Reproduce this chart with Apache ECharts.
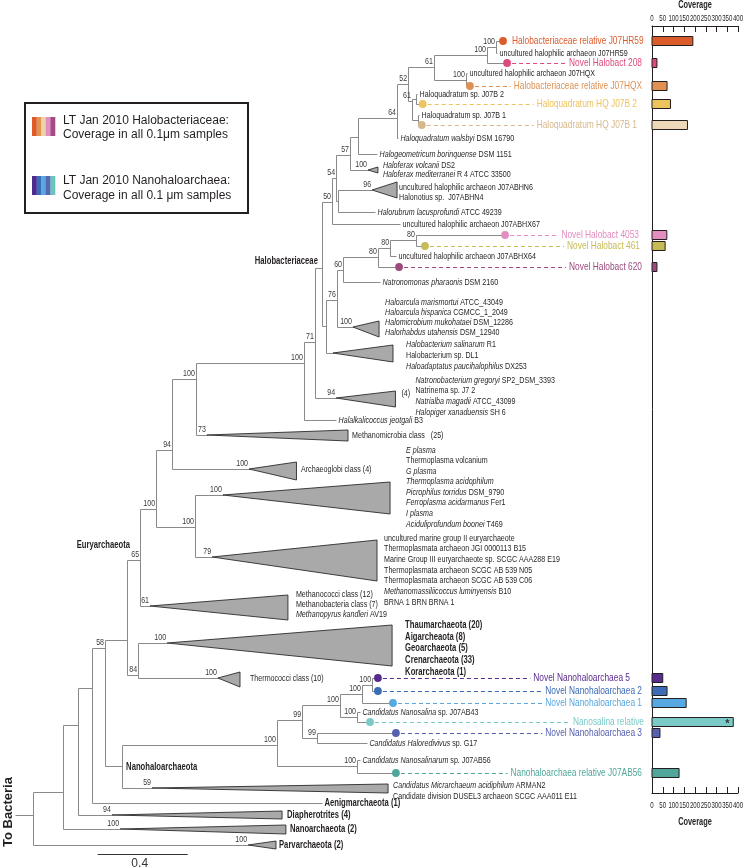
<!DOCTYPE html>
<html><head><meta charset="utf-8">
<script src="https://cdn.jsdelivr.net/npm/echarts@6/dist/echarts.min.js"></script>
<style>html,body{margin:0;padding:0;background:#fff}#chart{width:745px;height:868px}</style>
</head><body><div id="chart"></div>
<script>
// ---------------- DATA ----------------
// internal nodes: [id, parent, depth (subst./site from root), row, bootstrap support]
const internalNodes = [
  ['root', null, 0.000, 815, ''],
  ['n62', 'root', 0.132, 792, ''],
  ['n78', 'n62', 0.200, 725, ''],
  ['n92', 'n78', 0.262, 688, ''],
  ['n58', 'n92', 0.320, 648, '58'],
  ['eury', 'n58', 0.418, 640, ''],
  ['e65', 'eury', 0.476, 560, '65'],
  ['e100', 'e65', 0.547, 509, '100'],
  ['h94', 'e100', 0.618, 450, '94'],
  ['h100b', 'h94', 0.724, 379, '100'],
  ['h100a', 'h100b', 1.204, 363, '100'],
  ['h71', 'h100a', 1.253, 342, '71'],
  ['hal', 'h71', 1.284, 268, ''],
  ['h50', 'hal', 1.329, 202, '50'],
  ['h54', 'h50', 1.347, 178, '54'],
  ['h57', 'h54', 1.409, 155, '57'],
  ['n358', 'h57', 1.444, 137, ''],
  ['h64', 'n358', 1.618, 118, '64'],
  ['h52', 'h64', 1.667, 84, '52'],
  ['a3', 'h52', 1.782, 67, '61'],
  ['a2', 'a3', 2.018, 55, '100'],
  ['a1', 'a2', 2.058, 47, '100'],
  ['a4', 'a3', 1.924, 80, '100'],
  ['hq', 'h52', 1.684, 101, '61'],
  ['hq2', 'hq', 1.702, 99, ''],
  ['hq1', 'hq', 1.711, 120, ''],
  ['n338', 'h54', 1.356, 201, ''],
  ['n326', 'hal', 1.302, 326, ''],
  ['h76', 'n326', 1.351, 300, '76'],
  ['h60', 'h76', 1.378, 270, '60'],
  ['h80a', 'h60', 1.533, 257, '80'],
  ['h80b', 'h80a', 1.587, 248, '80'],
  ['h80c', 'h80b', 1.702, 240, '80'],
  ['t100', 'e100', 0.720, 527, '100'],
  ['t84', 'eury', 0.467, 675, '84'],
  ['nh', 'n58', 0.396, 766, ''],
  ['nA', 'nh', 1.084, 745, '100'],
  ['nB', 'nA', 1.196, 720, '99'],
  ['nC', 'nB', 1.364, 705, '100'],
  ['nE', 'nC', 1.462, 694, '100'],
  ['nG', 'nE', 1.507, 684.5, '100'],
  ['nF', 'nC', 1.440, 717, '100'],
  ['nD', 'nB', 1.262, 738, '99'],
  ['nF2', 'nA', 1.440, 766, '100']
];

// reference taxa: [parent, depth, row, name]
const taxa = [
  ['a1', 2.062, 53, 'uncultured halophilic archaeon J07HR59'],
  ['a4', 1.929, 73, 'uncultured halophilic archaeon J07HQX'],
  ['hq2', 1.707, 94, 'Haloquadratum sp. J07B 2'],
  ['hq1', 1.716, 115, 'Haloquadratum sp. J07B 1'],
  ['h64', 1.622, 138, '{i|Haloquadratum walsbyi} DSM 16790'],
  ['n358', 1.529, 154, '{i|Halogeometricum borinquense} DSM 1151'],
  ['n338', 1.520, 212, '{i|Halorubrum lacusprofundi} ATCC 49239'],
  ['h50', 1.631, 224, 'uncultured halophilic archaeon J07ABHX67'],
  ['h80b', 1.613, 256, 'uncultured halophilic archaeon J07ABHX64'],
  ['h60', 1.542, 282, '{i|Natronomonas pharaonis} DSM 2160'],
  ['h100a', 1.347, 420, '{i|Halalkalicoccus jeotgali} B3'],
  ['nF', 1.453, 712, '{i|Candidatus Nanosalina} sp. J07AB43'],
  ['nD', 1.484, 743, '{i|Candidatus Haloredivivus} sp. G17'],
  ['nF2', 1.453, 760, '{i|Candidatus Nanosalinarum} sp. J07AB56'],
  ['n92', 1.284, 803, '{b|Aenigmarchaeota (1)}']
];

// collapsed clades: [parent, apexDepth, edgeDepth, rowTop, rowApex, rowBottom, support]
const clades = [
  ['h57', 1.489, 1.533, 167, 170, 173, '100'],
  ['n338', 1.507, 1.618, 182, 190, 198, '96'],
  ['h76', 1.422, 1.538, 321, 327, 337, '100'],
  ['n326', 1.333, 1.600, 345, 353, 362, ''],
  ['h71', 1.347, 1.611, 391, 398, 407, '94'],
  ['h100b', 0.773, 1.400, 430, 435, 441, '73'],
  ['h94', 0.960, 1.171, 462, 469, 480, '100'],
  ['t100', 0.844, 1.587, 482, 495, 514, '100'],
  ['t100', 0.796, 1.529, 540, 557, 581, '79'],
  ['e65', 0.520, 1.133, 595, 606, 620, '61'],
  ['t84', 0.596, 1.596, 625, 643, 666, '100'],
  ['t84', 0.822, 0.920, 672, 678, 687, '100'],
  ['nh', 0.529, 1.578, 784, 788, 793, '59'],
  ['n78', 0.351, 1.107, 811, 815, 819, '94'],
  ['n62', 0.387, 1.124, 825, 829, 834, '100'],
  ['root', 0.956, 1.080, 841, 845, 849, '100']
];

// clade member names: [cladeIndex, firstRow, rowStep, members]
const cladeMembers = [
  [0, 165, 9, ['{i|Haloferax volcanii} DS2', '{i|Haloferax mediterranei} R 4 ATCC 33500']],
  [1, 187, 10, ['uncultured halophilic archaeon J07ABHN6', 'Halonotius sp.  J07ABHN4']],
  [2, 302, 10, ['{i|Haloarcula marismortui} ATCC_43049', '{i|Haloarcula hispanica} CGMCC_1_2049', '{i|Halomicrobium mukohataei} DSM_12286', '{i|Halorhabdus utahensis} DSM_12940']],
  [3, 344, 11, ['{i|Halobacterium salinarum} R1', 'Halobacterium sp. DL1', '{i|Haloadaptatus paucihalophilus} DX253']],
  [4, 380, 10.7, ['{i|Natronobacterium gregoryi} SP2_DSM_3393', 'Natrinema sp. J7 2', '{i|Natrialba magadii} ATCC_43099', '{i|Halopiger xanaduensis} SH 6']],
  [5, 435, 0, ['Methanomicrobia class   (25)']],
  [6, 469, 0, ['Archaeoglobi class (4)']],
  [7, 450, 10.57, ['{i|E plasma}', 'Thermoplasma volcanium', '{i|G plasma}', '{i|Thermoplasma acidophilum}', '{i|Picrophilus torridus} DSM_9790', '{i|Ferroplasma acidarmanus} Fer1', '{i|I plasma}', '{i|Aciduliprofundum boonei} T469']],
  [8, 538, 10.67, ['uncultured marine group II euryarchaeote', 'Thermoplasmata archaeon JGI 0000113 B15', 'Marine Group III euryarchaeote sp. SCGC AAA288 E19', 'Thermoplasmata archaeon SCGC AB 539 N05', 'Thermoplasmata archaeon SCGC AB 539 C06', '{i|Methanomassiliicoccus luminyensis} B10', 'BRNA 1 BRN BRNA 1']],
  [9, 594, 10, ['Methanococci class (12)', 'Methanobacteria class (7)', '{i|Methanopyrus kandleri} AV19']],
  [10, 625, 11.75, ['{b|Thaumarchaeota (20)}', '{b|Aigarcheaota (8)}', '{b|Geoarchaeota (5)}', '{b|Crenarchaeota (33)}', '{b|Korarchaeota (1)}']],
  [11, 678, 0, ['Thermococci class (10)']],
  [12, 785, 11, ['{i|Candidatus Micrarchaeum acidiphilum} ARMAN2', 'Candidate division DUSEL3 archaeon SCGC AAA011 E11']],
  [13, 815, 0, ['{b|Diapherotrites (4)}']],
  [14, 829, 0, ['{b|Nanoarchaeota (2)}']],
  [15, 845, 0, ['{b|Parvarchaeota (2)}']]
];
const cladeNotes = [[4, 393, '(4)']];

// named groups: [name, depth node, row node]
const groupNames = [
  ['Halobacteriaceae', 'hal', 'hal'],
  ['Euryarchaeota', 'eury', 'e65'],
  ['Nanohaloarchaeota', 'nh', 'nh']
];

// LT Jan 2010 genomes: [name, parent, depth, row, colour, coverage]
const genomes = [
  ['Halobacteriaceae relative J07HR59', 'a1', 2.089, 41, '#DC5B2B', 190],
  ['Novel Halobact 208', 'a2', 2.107, 63, '#DE4A7A', 23],
  ['Halobacteriaceae relative J07HQX', 'a4', 1.942, 86, '#DE9153', 70],
  ['Haloquadratum HQ J07B 2', 'hq2', 1.732, 104, '#EDC35C', 86],
  ['Haloquadratum HQ J07B 1', 'hq1', 1.728, 125, '#D6B88C', 165],
  ['Novel Halobact 4053', 'h80c', 2.098, 235, '#E38DC0', 69],
  ['Novel Halobact 461', 'h80c', 1.742, 246, '#C7BB55', 61],
  ['Novel Halobact 620', 'h80a', 1.627, 267, '#9C4A7D', 23],
  ['Novel Nanohaloarchaea 5', 'nG', 1.533, 678, '#5A2B8E', 50],
  ['Novel Nanohaloarchaea 2', 'nG', 1.533, 691, '#3B6CB4', 70],
  ['Novel Nanohaloarchaea 1', 'nE', 1.600, 703, '#57A7E0', 159],
  ['Nanosalina relative', 'nF', 1.498, 722, '#7ACBC8', 378],
  ['Novel Nanohaloarchaea 3', 'nD', 1.613, 733, '#5660B0', 37],
  ['Nanohaloarchaea relative J07AB56', 'nF2', 1.613, 773, '#50A69A', 126]
];
const starred = ['Nanosalina relative'];
const coverageTicks = [0, 400, 50];     // min, max, step
const scaleBarLength = 0.4;
const rootStemDepth = -0.08;

const legendHaloColors = ['#DC5B2B', '#E09453', '#EDD3A8', '#E38DC0', '#A24C86'];
const legendNanoColors = ['#4E2C8E', '#3B6CB4', '#57A7E0', '#5967B0', '#6CC3BF'];

// ---------------- LAYOUT / STYLE ----------------
const W = 745, H = 868;
const TREE_X0 = 33, PX_PER_UNIT = 225;
const BAR_LEFT = 652, BAR_WIDTH = 86, BAR_TOP = 26, BAR_BOTTOM = 793;
const FONT = "'Liberation Sans',Arial,sans-serif";
const CONDENSE = 0.76;
const INK = '#231f20', BRANCH = '#8a8a8a';
const FS = 9.4, COLOR_FS = 11, BOLD_FS = 10.1, SUP_FS = 9.3;
const labelGapOverride = {'Haloquadratum HQ J07B 2': 15, 'Haloquadratum HQ J07B 1': 15, 'Novel Halobact 4053': 13,
  'Novel Halobact 461': 12, 'Novel Nanohaloarchaea 5': 22, 'Nanosalina relative': 8};
const barFillOverride = {'Haloquadratum HQ J07B 1': '#EDD9B8'};
const memberGap = [5, 2, 6, 13, 20, 4, 4.5, 16, 7, 8, 13, 10, 5, 5, 4, 3];

// ---------------- BUILD TREE ----------------
const node = {};
internalNodes.forEach(n => node[n[0]] = {depth: n[2], row: n[3], kids: []});
internalNodes.forEach(n => { if (n[1]) node[n[1]].kids.push(n[3]); });
taxa.forEach(t => node[t[0]].kids.push(t[2]));
clades.forEach(c => node[c[0]].kids.push(c[4]));
genomes.forEach(g => node[g[1]].kids.push(g[3]));

const segments = [];
internalNodes.forEach(n => {
  const k = node[n[0]].kids.concat([n[3]]);
  segments.push([n[2], Math.min(...k), n[2], Math.max(...k)]);
  if (n[1]) segments.push([node[n[1]].depth, n[3], n[2], n[3]]);
});
taxa.forEach(t => segments.push([node[t[0]].depth, t[2], t[1], t[2]]));
clades.forEach(c => segments.push([node[c[0]].depth, c[4], c[1], c[4]]));
genomes.forEach(g => segments.push([node[g[1]].depth, g[3], g[2], g[3]]));
segments.push([rootStemDepth, node.root.row, 0, node.root.row]);

const supports = [];
internalNodes.forEach(n => { if (n[4]) supports.push([n[2], n[3], n[4]]); });
clades.forEach(c => { if (c[6]) supports.push([c[1], c[4], c[6]]); });

const memberLines = [];
cladeMembers.forEach(m => m[3].forEach((txt, i) => memberLines.push([clades[m[0]][2], m[1] + i * m[2], txt, memberGap[m[0]]])));
cladeNotes.forEach(n => memberLines.push([clades[n[0]][2], n[1], n[2], 6]));

const tickValues = [];
for (let v = coverageTicks[0]; v <= coverageTicks[1]; v += coverageTicks[2]) tickValues.push(v);

// ---------------- HELPERS ----------------
const mctx = document.createElement('canvas').getContext('2d');
function measure(text, size) { mctx.font = size + 'px ' + FONT; return mctx.measureText(text).width * CONDENSE; }
function rich(size, fill) {
  return {
    i: {fontSize: size, fontFamily: FONT, fill: fill, fontStyle: 'italic', fontWeight: 'normal'},
    b: {fontSize: size, fontFamily: FONT, fill: fill, fontStyle: 'normal', fontWeight: 'bold'}
  };
}
function textEl(x, y, text, o) {
  o = o || {};
  const size = o.size || FS, fill = o.fill || INK;
  return {type: 'text', x: x, y: y, scaleX: o.sx || CONDENSE, style: {
    text: text, fill: fill, fontSize: size, fontFamily: FONT,
    fontWeight: o.weight || 'normal', fontStyle: 'normal',
    align: o.align || 'left', verticalAlign: o.va || 'middle', rich: rich(size, fill)
  }};
}
const px = v => Math.round(v) + 0.5;
const idx = arr => arr.map((a, i) => [i]);

const treeAxes = {xAxisIndex: 0, yAxisIndex: 0, coordinateSystem: 'cartesian2d', silent: true, clip: false};
const barAxes = {xAxisIndex: 1, yAxisIndex: 1, coordinateSystem: 'cartesian2d', silent: true, clip: false};

const series = [
  Object.assign({type: 'custom', data: segments, encode: {x: [0, 2], y: [1, 3]},
    renderItem(p, api) {
      const a = api.coord([api.value(0), api.value(1)]), b = api.coord([api.value(2), api.value(3)]);
      return {type: 'line', shape: {x1: px(a[0]), y1: px(a[1]), x2: px(b[0]), y2: px(b[1])},
        style: {stroke: BRANCH, lineWidth: 1}};
    }}, treeAxes),
  Object.assign({type: 'custom', data: clades.map(c => [c[1], c[4]]), z: 3,
    renderItem(p, api) {
      const c = clades[p.dataIndex];
      return {type: 'polygon', shape: {points: [api.coord([c[1], c[4]]), api.coord([c[2], c[3]]), api.coord([c[2], c[5]])]},
        style: {fill: '#a9a9a9', stroke: '#2b2b2b', lineWidth: 0.9}};
    }}, treeAxes),
  Object.assign({type: 'custom', data: supports.map(s => [s[0], s[1]]), z: 4,
    renderItem(p, api) {
      const s = supports[p.dataIndex], c = api.coord([s[0], s[1]]);
      return textEl(c[0] - 1, c[1] - 1, s[2], {align: 'right', va: 'bottom', fill: '#3a3a3a', size: SUP_FS});
    }}, treeAxes),
  Object.assign({type: 'custom', data: taxa.map(t => [t[1], t[2]]), z: 4,
    renderItem(p, api) {
      const t = taxa[p.dataIndex], c = api.coord([t[1], t[2]]);
      return textEl(c[0] + 2.5, c[1], t[3], {size: t[3].indexOf('{b|') === 0 ? BOLD_FS : FS});
    }}, treeAxes),
  Object.assign({type: 'custom', data: memberLines.map(m => [m[0], m[1]]), z: 4,
    renderItem(p, api) {
      const m = memberLines[p.dataIndex], c = api.coord([m[0], m[1]]);
      return textEl(c[0] + m[3], c[1], m[2], {size: m[2].indexOf('{b|') === 0 ? BOLD_FS : FS});
    }}, treeAxes),
  Object.assign({type: 'custom', data: idx(groupNames), z: 4,
    renderItem(p, api) {
      const g = groupNames[p.dataIndex];
      const c = api.coord([node[g[1]].depth, node[g[2]].row]);
      if (p.dataIndex === 0) return textEl(c[0] - 4, c[1] - 7, g[0], {weight: 'bold', size: BOLD_FS, align: 'right'});
      if (p.dataIndex === 1) return textEl(c[0] + 3, c[1] - 15, g[0], {weight: 'bold', size: BOLD_FS, align: 'right'});
      return textEl(c[0] + 4, c[1] + 1, g[0], {weight: 'bold', size: BOLD_FS});
    }}, treeAxes),
  Object.assign({type: 'custom', data: genomes.map(g => [g[2], g[3]]), z: 5,
    renderItem(p, api) {
      const g = genomes[p.dataIndex], c = api.coord([g[2], g[3]]);
      const kids = [{type: 'circle', shape: {cx: c[0], cy: c[1], r: 3.9}, style: {fill: g[4]}}];
      if (p.dataIndex === 0) {
        kids.push(textEl(c[0] + 9, c[1], g[0], {fill: g[4], size: COLOR_FS}));
      } else {
        const end = BAR_LEFT - (labelGapOverride[g[0]] || 10);
        const w = measure(g[0], COLOR_FS);
        kids.push({type: 'line', shape: {x1: c[0] + 5, y1: px(c[1]), x2: end - w - 3, y2: px(c[1])},
          style: {stroke: g[4], lineWidth: 1.2, lineDash: [4, 3]}});
        kids.push(textEl(end, c[1], g[0], {fill: g[4], size: COLOR_FS, align: 'right'}));
      }
      return {type: 'group', children: kids};
    }}, treeAxes),
  Object.assign({type: 'custom', data: [[0.2876, 854]], z: 4,
    renderItem(p, api) {
      const a = api.coord([0.2876, 854]), b = api.coord([0.2876 + scaleBarLength, 854]);
      return {type: 'group', children: [
        {type: 'line', shape: {x1: a[0], y1: px(a[1]), x2: b[0], y2: px(b[1])}, style: {stroke: '#333', lineWidth: 1.2}},
        textEl((a[0] + b[0]) / 2 - 3, a[1] + 9.5, String(scaleBarLength), {size: 12, sx: 1, align: 'center', fill: '#333'})
      ]};
    }}, treeAxes),
  Object.assign({type: 'custom', z: 5, data: genomes.map(g => [g[5], g[3]]),
    renderItem(p, api) {
      const g = genomes[p.dataIndex];
      const a = api.coord([0, g[3]]), b = api.coord([g[5], g[3]]);
      const kids = [{type: 'rect', shape: {x: a[0], y: a[1] - 4.5, width: b[0] - a[0], height: 9},
        style: {fill: barFillOverride[g[0]] || g[4], stroke: INK, lineWidth: 1}}];
      if (starred.indexOf(g[0]) >= 0) kids.push(textEl(b[0] - 6, a[1] + 1.5, '*', {size: 11, sx: 1, align: 'center', weight: 'bold', fill: '#333'}));
      return {type: 'group', children: kids};
    }}, barAxes),
  // coverage tick labels (top and bottom axes)
  Object.assign({type: 'custom', z: 5, data: tickValues.map(v => [v, BAR_TOP]),
    renderItem(p, api) {
      const v = tickValues[p.dataIndex];
      const t = api.coord([v, BAR_TOP]), b = api.coord([v, BAR_BOTTOM]);
      return {type: 'group', children: [
        textEl(t[0], t[1] - 8, String(v), {size: 9.5, sx: 0.64, align: 'center'}),
        textEl(b[0], b[1] + 12, String(v), {size: 9.5, sx: 0.64, align: 'center'})
      ]};
    }}, barAxes),
  Object.assign({type: 'custom', z: 5, data: [[(coverageTicks[0] + coverageTicks[1]) / 2, BAR_TOP]],
    renderItem(p, api) {
      const mid = (coverageTicks[0] + coverageTicks[1]) / 2;
      const t = api.coord([mid, BAR_TOP]), b = api.coord([mid, BAR_BOTTOM]);
      return {type: 'group', children: [
        textEl(t[0], t[1] - 21, 'Coverage', {size: 10, sx: 0.74, weight: 'bold', align: 'center'}),
        textEl(b[0], b[1] + 29, 'Coverage', {size: 10, sx: 0.74, weight: 'bold', align: 'center'})
      ]};
    }}, barAxes)
];

function covAxis(pos) {
  return {gridIndex: 1, type: 'value', position: pos, min: coverageTicks[0], max: coverageTicks[1], interval: coverageTicks[2],
    axisLine: {show: true, onZero: false, lineStyle: {color: INK, width: 1}},
    axisTick: {show: true, inside: true, length: 6, lineStyle: {color: INK, width: 1}},
    axisLabel: {show: false}, splitLine: {show: false}};
}

function stripes(colors, x, y, w, h) {
  const sw = w / colors.length;
  return colors.map((c, i) => ({type: 'rect', shape: {x: x + i * sw, y: y, width: sw + 0.3, height: h}, style: {fill: c}}));
}

const legendFont = {fontSize: 12, fontFamily: FONT, fill: INK, verticalAlign: 'middle'};
const graphic = [
  {type: 'rect', shape: {x: 25, y: 103, width: 223, height: 110}, style: {fill: '#fff', stroke: INK, lineWidth: 2}},
  ...stripes(legendHaloColors, 32, 117, 23, 19),
  ...stripes(legendNanoColors, 32, 176, 23, 19),
  {type: 'text', x: 63, y: 121, style: Object.assign({text: 'LT Jan 2010 Halobacteriaceae:'}, legendFont)},
  {type: 'text', x: 63, y: 135, style: Object.assign({text: 'Coverage in all 0.1\u03bcm samples'}, legendFont)},
  {type: 'text', x: 63, y: 181, style: Object.assign({text: 'LT Jan 2010 Nanohaloarchaea:'}, legendFont)},
  {type: 'text', x: 63, y: 196, style: Object.assign({text: 'Coverage in all 0.1 \u03bcm samples'}, legendFont)},
  {type: 'text', x: 8, y: 812, rotation: Math.PI / 2,
    style: {text: 'To Bacteria', fontSize: 13, fontWeight: 'bold', fontFamily: FONT, fill: INK, align: 'center', verticalAlign: 'middle'}}
];

const chart = echarts.init(document.getElementById('chart'), null, {renderer: 'canvas'});
chart.setOption({
  animation: false,
  backgroundColor: '#ffffff',
  grid: [
    {left: 0, top: 0, width: W, height: H},
    {left: BAR_LEFT, top: BAR_TOP, width: BAR_WIDTH, height: BAR_BOTTOM - BAR_TOP}
  ],
  xAxis: [
    {gridIndex: 0, type: 'value', min: -TREE_X0 / PX_PER_UNIT, max: (W - TREE_X0) / PX_PER_UNIT, show: false},
    covAxis('top'), covAxis('bottom')
  ],
  yAxis: [
    {gridIndex: 0, type: 'value', min: 0, max: H, inverse: true, show: false},
    {gridIndex: 1, type: 'value', min: BAR_TOP, max: BAR_BOTTOM, inverse: true,
      axisLine: {show: true, onZero: false, lineStyle: {color: INK, width: 1}},
      axisTick: {show: false}, axisLabel: {show: false}, splitLine: {show: false}}
  ],
  graphic: graphic,
  series: series
});
</script></body></html>
